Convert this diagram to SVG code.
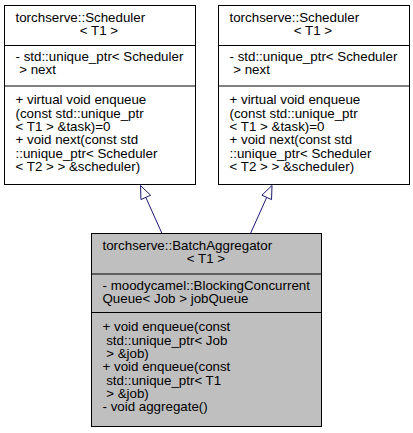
<svg xmlns="http://www.w3.org/2000/svg" width="413" height="433" viewBox="0 0 413 433">
<style>
text{font-family:"Liberation Sans",Arial,Helvetica,sans-serif;font-size:13.33px;fill:#000}
.c{text-anchor:middle}
.box{fill:#fff;stroke:#000;stroke-width:1}
.sel{fill:#bfbfbf;stroke:#000;stroke-width:1}
.div{stroke:#000;stroke-width:1}
.edge{stroke:#191970;stroke-width:1;fill:none}
.head{stroke:#191970;stroke-width:1;fill:#fff}
</style>
<rect width="413" height="433" fill="#fff"/>
<g id="node_scheduler_left">
<rect class="box" x="4.5" y="5.5" width="191" height="179"/>
<line class="div" x1="4.5" y1="45.5" x2="195.5" y2="45.5"/>
<line class="div" x1="4.5" y1="86" x2="195.5" y2="86"/>
<text x="15.5" y="22">torchserve::Scheduler</text>
<text class="c" x="99" y="35.3">&lt; T1 &gt;</text>
<text x="15.5" y="60.5">- std::unique_ptr&lt; Scheduler</text>
<text x="15.5" y="73.8" xml:space="preserve"> &gt; next</text>
<text x="15.5" y="104.3">+ virtual void enqueue</text>
<text x="15.5" y="117.6">(const std::unique_ptr</text>
<text x="15.5" y="131">&lt; T1 &gt; &amp;task)=0</text>
<text x="15.5" y="144.3">+ void next(const std</text>
<text x="15.5" y="157.6">::unique_ptr&lt; Scheduler</text>
<text x="15.5" y="171">&lt; T2 &gt; &gt; &amp;scheduler)</text>
</g>
<g id="node_scheduler_right">
<rect class="box" x="218.5" y="5.5" width="191" height="179"/>
<line class="div" x1="218.5" y1="45.5" x2="409.5" y2="45.5"/>
<line class="div" x1="218.5" y1="86" x2="409.5" y2="86"/>
<text x="229.5" y="22">torchserve::Scheduler</text>
<text class="c" x="313" y="35.3">&lt; T1 &gt;</text>
<text x="229.5" y="60.5">- std::unique_ptr&lt; Scheduler</text>
<text x="229.5" y="73.8" xml:space="preserve"> &gt; next</text>
<text x="229.5" y="104.3">+ virtual void enqueue</text>
<text x="229.5" y="117.6">(const std::unique_ptr</text>
<text x="229.5" y="131">&lt; T1 &gt; &amp;task)=0</text>
<text x="229.5" y="144.3">+ void next(const std</text>
<text x="229.5" y="157.6">::unique_ptr&lt; Scheduler</text>
<text x="229.5" y="171">&lt; T2 &gt; &gt; &amp;scheduler)</text>
</g>
<g id="node_batchaggregator">
<rect class="sel" x="91.5" y="233.5" width="230" height="193"/>
<line class="div" x1="91.5" y1="274" x2="321.5" y2="274"/>
<line class="div" x1="91.5" y1="312.5" x2="321.5" y2="312.5"/>
<text x="102.5" y="249.5">torchserve::BatchAggregator</text>
<text class="c" x="206" y="262.8">&lt; T1 &gt;</text>
<text x="102.5" y="289.5">- moodycamel::BlockingConcurrent</text>
<text x="102.5" y="302.8">Queue&lt; Job &gt; jobQueue</text>
<text x="102.5" y="331.3">+ void enqueue(const</text>
<text x="102.5" y="344.6" xml:space="preserve"> std::unique_ptr&lt; Job</text>
<text x="102.5" y="357.9" xml:space="preserve"> &gt; &amp;job)</text>
<text x="102.5" y="371.3">+ void enqueue(const</text>
<text x="102.5" y="384.6" xml:space="preserve"> std::unique_ptr&lt; T1</text>
<text x="102.5" y="397.9" xml:space="preserve"> &gt; &amp;job)</text>
<text x="102.5" y="411.3">- void aggregate()</text>
</g>
<g id="connectors">
<line class="edge" x1="162" y1="233.5" x2="145.8" y2="197.4"/>
<polygon class="head" points="140.5,185.5 150.64,195.23 140.96,199.57"/>
<line class="edge" x1="250.5" y1="233.5" x2="266.7" y2="197.4"/>
<polygon class="head" points="272,185.5 261.86,195.23 271.54,199.57"/>
</g>
</svg>
